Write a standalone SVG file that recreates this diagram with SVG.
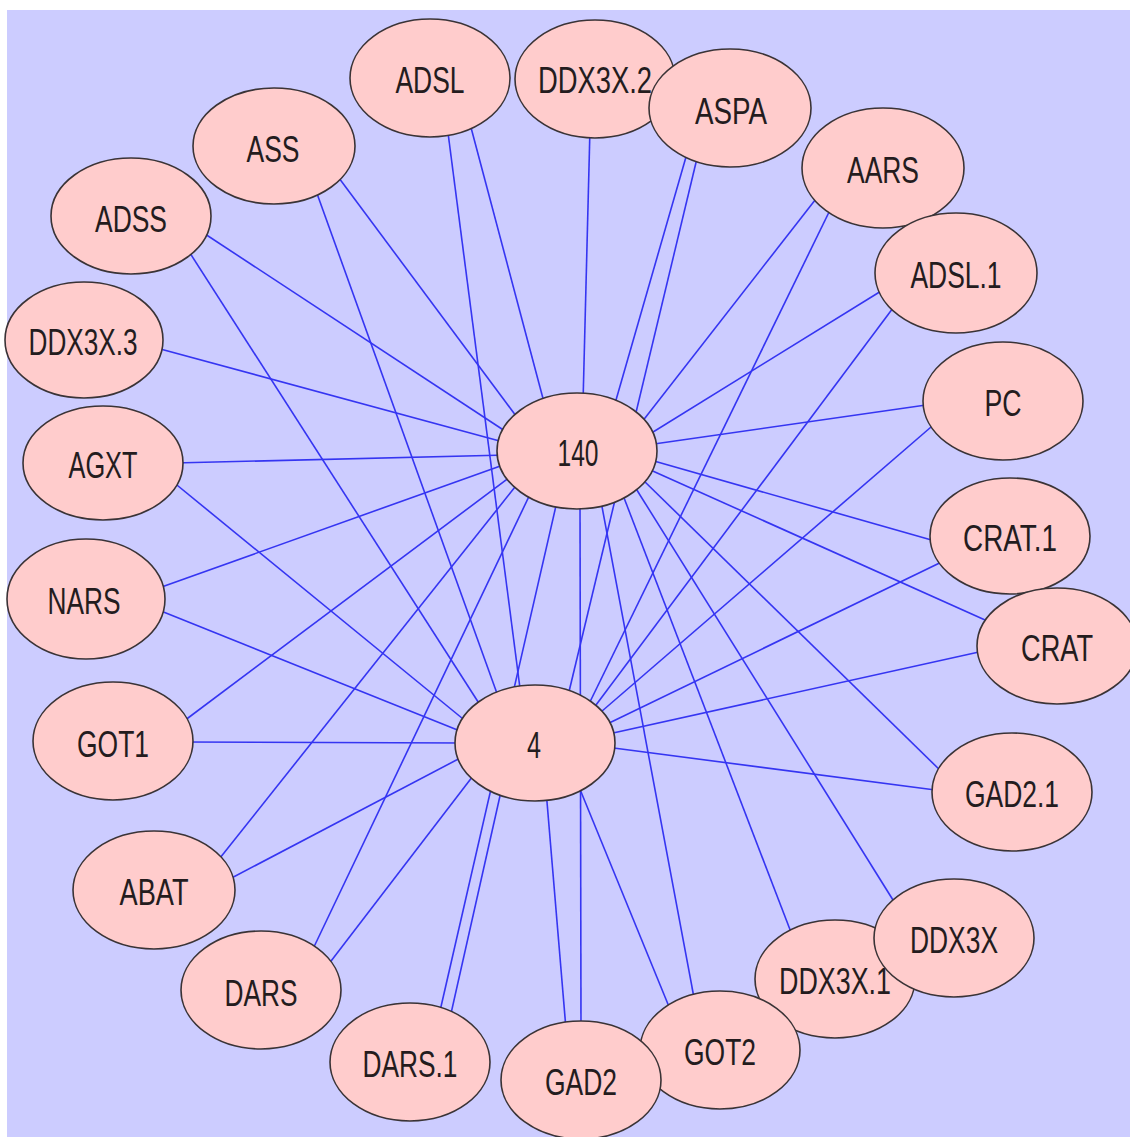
<svg xmlns="http://www.w3.org/2000/svg" width="1130" height="1137" viewBox="0 0 1130 1137">
<style>
.bg{fill:#ccccff}
.e line{stroke:#3535f2;stroke-width:1.6;fill:none}
.n ellipse{fill:#ffcccc;stroke:#3a3336;stroke-width:1.6}
.n text{font-family:"Liberation Sans",Arial,sans-serif;font-size:36px;fill:#241c1e;text-anchor:middle}
</style>
<rect width="1130" height="1137" fill="#ffffff"/>
<rect class="bg" x="7" y="10" width="1123" height="1127"/>
<g id="edges" class="e">
<line x1="469" y1="120" x2="545" y2="406"/>
<line x1="590" y1="128" x2="583" y2="403"/>
<line x1="688" y1="150" x2="614" y2="407"/>
<line x1="819" y1="195" x2="638" y2="427"/>
<line x1="886" y1="288" x2="645" y2="437"/>
<line x1="933" y1="404" x2="647" y2="445"/>
<line x1="942" y1="543" x2="647" y2="459"/>
<line x1="994" y1="624" x2="646" y2="468"/>
<line x1="947" y1="777" x2="641" y2="478"/>
<line x1="898" y1="908" x2="635" y2="487"/>
<line x1="794" y1="940" x2="621" y2="490"/>
<line x1="695" y1="1003" x2="600" y2="496"/>
<line x1="581" y1="1029" x2="580" y2="499"/>
<line x1="440" y1="1011" x2="558" y2="497"/>
<line x1="312" y1="951" x2="533" y2="488"/>
<line x1="216" y1="863" x2="519" y2="482"/>
<line x1="180" y1="724" x2="514" y2="474"/>
<line x1="156" y1="589" x2="506" y2="464"/>
<line x1="174" y1="463" x2="507" y2="455"/>
<line x1="153" y1="347" x2="507" y2="443"/>
<line x1="202" y1="232" x2="508" y2="433"/>
<line x1="336" y1="174" x2="519" y2="420"/>
<line x1="447" y1="125" x2="521" y2="696"/>
<line x1="699" y1="150" x2="567" y2="700"/>
<line x1="832" y1="206" x2="586" y2="710"/>
<line x1="896" y1="304" x2="590" y2="713"/>
<line x1="938" y1="421" x2="594" y2="718"/>
<line x1="954" y1="556" x2="603" y2="726"/>
<line x1="988" y1="650" x2="604" y2="735"/>
<line x1="943" y1="791" x2="606" y2="747"/>
<line x1="672" y1="1014" x2="577" y2="782"/>
<line x1="566" y1="1029" x2="546" y2="790"/>
<line x1="450" y1="1018" x2="502" y2="787"/>
<line x1="328" y1="965" x2="476" y2="772"/>
<line x1="224" y1="882" x2="466" y2="755"/>
<line x1="183" y1="742" x2="465" y2="743"/>
<line x1="156" y1="609" x2="465" y2="733"/>
<line x1="172" y1="481" x2="468" y2="723"/>
<line x1="188" y1="250" x2="482" y2="708"/>
<line x1="315" y1="188" x2="499" y2="699"/>
</g>
<g id="n-DDX3X.2" class="n"><ellipse cx="595" cy="79" rx="80" ry="59"/><text x="595" y="93" textLength="114" lengthAdjust="spacingAndGlyphs">DDX3X.2</text></g>
<g id="n-ASPA" class="n"><ellipse cx="730" cy="108" rx="81" ry="59"/><text x="731" y="124" textLength="72" lengthAdjust="spacingAndGlyphs">ASPA</text></g>
<g id="n-ADSL" class="n"><ellipse cx="430" cy="78" rx="80" ry="59"/><text x="430" y="93" textLength="69" lengthAdjust="spacingAndGlyphs">ADSL</text></g>
<g id="n-ASS" class="n"><ellipse cx="274" cy="146" rx="81" ry="58"/><text x="273" y="162" textLength="53" lengthAdjust="spacingAndGlyphs">ASS</text></g>
<g id="n-ADSS" class="n"><ellipse cx="131" cy="216" rx="80" ry="58"/><text x="131" y="232" textLength="72" lengthAdjust="spacingAndGlyphs">ADSS</text></g>
<g id="n-DDX3X.3" class="n"><ellipse cx="84" cy="340" rx="79" ry="58"/><text x="83" y="355" textLength="109" lengthAdjust="spacingAndGlyphs">DDX3X.3</text></g>
<g id="n-AGXT" class="n"><ellipse cx="103" cy="463" rx="80" ry="57"/><text x="103" y="478" textLength="69" lengthAdjust="spacingAndGlyphs">AGXT</text></g>
<g id="n-NARS" class="n"><ellipse cx="86" cy="599" rx="79" ry="60"/><text x="84" y="614" textLength="73" lengthAdjust="spacingAndGlyphs">NARS</text></g>
<g id="n-GOT1" class="n"><ellipse cx="113" cy="741" rx="80" ry="59"/><text x="113" y="757" textLength="72" lengthAdjust="spacingAndGlyphs">GOT1</text></g>
<g id="n-ABAT" class="n"><ellipse cx="154" cy="890" rx="81" ry="59"/><text x="154" y="905" textLength="69" lengthAdjust="spacingAndGlyphs">ABAT</text></g>
<g id="n-DARS" class="n"><ellipse cx="261" cy="990" rx="80" ry="59"/><text x="261" y="1006" textLength="73" lengthAdjust="spacingAndGlyphs">DARS</text></g>
<g id="n-DARS.1" class="n"><ellipse cx="410" cy="1062" rx="80" ry="59"/><text x="410" y="1077" textLength="95" lengthAdjust="spacingAndGlyphs">DARS.1</text></g>
<g id="n-DDX3X.1" class="n"><ellipse cx="835" cy="979" rx="80" ry="59"/><text x="835" y="994" textLength="112" lengthAdjust="spacingAndGlyphs">DDX3X.1</text></g>
<g id="n-GOT2" class="n"><ellipse cx="720" cy="1050" rx="80" ry="59"/><text x="720" y="1065" textLength="72" lengthAdjust="spacingAndGlyphs">GOT2</text></g>
<g id="n-GAD2" class="n"><ellipse cx="581" cy="1080" rx="80" ry="59"/><text x="581" y="1095" textLength="72" lengthAdjust="spacingAndGlyphs">GAD2</text></g>
<g id="n-DDX3X" class="n"><ellipse cx="954" cy="938" rx="80" ry="59"/><text x="954" y="953" textLength="88" lengthAdjust="spacingAndGlyphs">DDX3X</text></g>
<g id="n-GAD2.1" class="n"><ellipse cx="1012" cy="792" rx="80" ry="59"/><text x="1012" y="807" textLength="94" lengthAdjust="spacingAndGlyphs">GAD2.1</text></g>
<g id="n-CRAT.1" class="n"><ellipse cx="1010" cy="536" rx="80" ry="58"/><text x="1010" y="551" textLength="94" lengthAdjust="spacingAndGlyphs">CRAT.1</text></g>
<g id="n-CRAT" class="n"><ellipse cx="1057" cy="646" rx="80" ry="58"/><text x="1057" y="661" textLength="72" lengthAdjust="spacingAndGlyphs">CRAT</text></g>
<g id="n-PC" class="n"><ellipse cx="1003" cy="401" rx="80" ry="59"/><text x="1003" y="416" textLength="37" lengthAdjust="spacingAndGlyphs">PC</text></g>
<g id="n-AARS" class="n"><ellipse cx="883" cy="168" rx="81" ry="60"/><text x="883" y="183" textLength="72" lengthAdjust="spacingAndGlyphs">AARS</text></g>
<g id="n-ADSL.1" class="n"><ellipse cx="956" cy="273" rx="81" ry="60"/><text x="956" y="288" textLength="91" lengthAdjust="spacingAndGlyphs">ADSL.1</text></g>
<g id="n-140" class="n"><ellipse cx="577" cy="451" rx="80" ry="58"/><text x="578" y="466" textLength="41" lengthAdjust="spacingAndGlyphs">140</text></g>
<g id="n-4" class="n"><ellipse cx="535" cy="743" rx="80" ry="58"/><text x="534" y="758" textLength="14" lengthAdjust="spacingAndGlyphs">4</text></g>
</svg>
